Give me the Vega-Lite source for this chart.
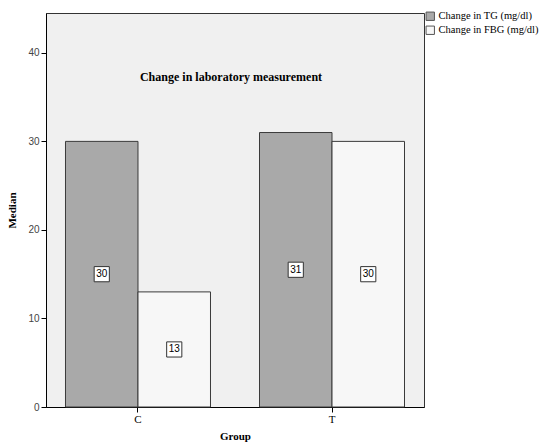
{
  "$schema": "https://vega.github.io/schema/vega-lite/v6.json",
  "width": 378,
  "height": 394,
  "autosize": "none",
  "padding": {"left": 46, "top": 13, "right": 115, "bottom": 36},
  "background": "white",
  "title": {
    "text": "Change in laboratory measurement",
    "font": "Liberation Serif",
    "fontSize": 12,
    "fontWeight": "bold",
    "color": "#000000",
    "anchor": "middle",
    "frame": "group",
    "baseline": "top",
    "offset": -73,
    "dx": -4
  },
  "config": {
    "view": {"fill": "#f0f0f0", "stroke": "#333333", "strokeWidth": 1},
    "axis": {"grid": false}
  },
  "data": {
    "values": [
      {"Group": "C", "Measure": "Change in TG (mg/dl)", "Median": 30},
      {"Group": "C", "Measure": "Change in FBG (mg/dl)", "Median": 13},
      {"Group": "T", "Measure": "Change in TG (mg/dl)", "Median": 31},
      {"Group": "T", "Measure": "Change in FBG (mg/dl)", "Median": 30}
    ]
  },
  "transform": [{"calculate": "datum.Median / 2", "as": "mid"}],
  "encoding": {
    "x": {
      "field": "Group",
      "type": "nominal",
      "scale": {"paddingInner": 0.2526, "paddingOuter": 0.1005},
      "axis": {
        "title": "Group",
        "titleFont": "Liberation Serif",
        "titleFontWeight": "bold",
        "titleFontSize": 11,
        "titleColor": "#000",
        "titlePadding": 6,
        "labelFont": "Liberation Serif",
        "labelFontSize": 11,
        "labelColor": "#000",
        "labelAngle": 0,
        "tickColor": "#000",
        "tickSize": 5,
        "domainColor": "#000",
        "labelPadding": 1
      }
    },
    "xOffset": {
      "field": "Measure",
      "type": "nominal",
      "sort": ["Change in TG (mg/dl)", "Change in FBG (mg/dl)"],
      "scale": {"paddingInner": 0, "paddingOuter": 0}
    }
  },
  "layer": [
    {
      "mark": {"type": "bar", "stroke": "#3a3a3a", "strokeWidth": 1},
      "encoding": {
        "y": {
          "field": "Median",
          "type": "quantitative",
          "scale": {"domain": [0, 44.5], "nice": false},
          "axis": {
            "title": "Median",
            "titleFont": "Liberation Serif",
            "titleFontWeight": "bold",
            "titleFontSize": 11,
            "titleColor": "#000",
            "titlePadding": 10,
            "values": [0, 10, 20, 30, 40],
            "labelFont": "Liberation Sans",
            "labelFontSize": 10,
            "labelColor": "#444",
            "tickColor": "#000",
            "tickSize": 5,
            "domainColor": "#000",
            "labelPadding": 2
          }
        },
        "fill": {
          "field": "Measure",
          "type": "nominal",
          "sort": ["Change in TG (mg/dl)", "Change in FBG (mg/dl)"],
          "scale": {"range": ["#a9a9a9", "#f7f7f7"]},
          "legend": {
            "title": null,
            "orient": "none",
            "legendX": 379,
            "legendY": -2,
            "symbolType": "square",
            "symbolSize": 70,
            "symbolStrokeColor": "#555",
            "symbolStrokeWidth": 1,
            "labelFont": "Liberation Serif",
            "labelFontSize": 10.5,
            "labelColor": "#000",
            "labelOffset": 3,
            "rowPadding": 1,
            "padding": 0
          }
        }
      }
    },
    {
      "mark": {"type": "point", "shape": "square", "size": 230, "filled": true, "fill": "white", "stroke": "#333", "strokeWidth": 1, "opacity": 1},
      "encoding": {
        "y": {"field": "mid", "type": "quantitative"}
      }
    },
    {
      "mark": {"type": "text", "font": "Liberation Sans", "fontSize": 10, "color": "#000", "baseline": "middle", "align": "center"},
      "encoding": {
        "y": {"field": "mid", "type": "quantitative"},
        "text": {"field": "Median", "type": "quantitative"}
      }
    }
  ]
}
